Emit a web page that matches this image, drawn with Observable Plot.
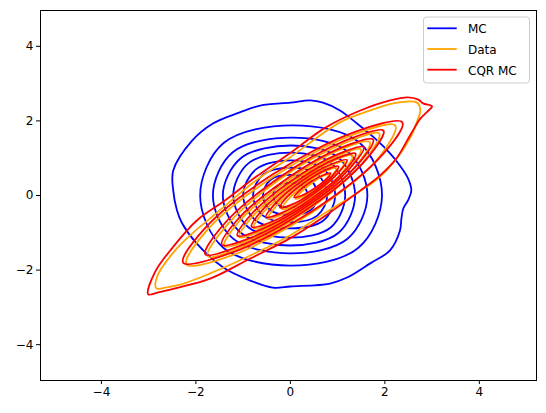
<!DOCTYPE html>
<html><head><meta charset="utf-8">
<script src="https://cdn.jsdelivr.net/npm/d3@7"></script>
<script src="https://cdn.jsdelivr.net/npm/@observablehq/plot@0.6"></script>
<style>
body{margin:0;background:#fff;}
#chart{position:relative;width:546px;height:413px;}
</style>
</head><body><div id="chart"></div>
<script>
const series = ["MC", "Data", "CQR MC"];
const seriesColors = ["#0000ff", "#ffa500", "#ff0000"];
const xTicks = [-4, -2, 0, 2, 4];
const yTicks = [-4, -2, 0, 2, 4];

// MC contours (outermost first)
const mcContours = [
  [[0.42,2.55],[0.69,2.49],[1.05,2.28],[1.41,1.93],[1.79,1.53],[2.11,1.13],[2.32,0.80],[2.49,0.46],[2.56,0.13],[2.49,-0.13],[2.39,-0.35],[2.35,-0.62],[2.32,-0.94],[2.11,-1.47],[1.69,-1.82],[1.20,-2.20],[0.84,-2.36],[0.0,-2.44],[-0.37,-2.47],[-0.85,-2.28],[-1.42,-1.93],[-1.98,-1.29],[-2.29,-0.75],[-2.40,-0.40],[-2.48,0.13],[-2.48,0.67],[-2.08,1.47],[-1.64,1.93],[-1.07,2.23],[-0.64,2.41],[0.0,2.49]],
  [[1.94,0.0],[1.46,1.42],[0.05,1.88],[-1.42,1.40],[-1.91,0.0],[-1.42,-1.40],[0.0,-1.88],[1.44,-1.40]],
  [[1.63,0.0],[1.22,1.17],[0.04,1.55],[-1.22,1.16],[-1.64,0.0],[-1.22,-1.15],[0.0,-1.55],[1.21,-1.16]],
  [[1.37,0.0],[1.03,1.00],[0.03,1.34],[-1.05,1.00],[-1.43,0.0],[-1.05,-1.00],[0.0,-1.34],[1.02,-1.00]],
  [[1.16,0.0],[0.87,0.86],[0.03,1.15],[-0.89,0.86],[-1.21,0.0],[-0.89,-0.85],[0.0,-1.13],[0.86,-0.85]],
  [[0.95,0.0],[0.71,0.70],[0.03,0.94],[-0.73,0.70],[-1.00,0.0],[-0.73,-0.67],[0.0,-0.88],[0.70,-0.67]],
  [[0.78,0.0],[0.58,0.56],[0.03,0.75],[-0.58,0.56],[-0.79,0.0],[-0.58,-0.54],[0.0,-0.72],[0.57,-0.54]],
  [[0.58,0.0],[0.43,0.41],[0.03,0.55],[-0.43,0.41],[-0.58,0.0],[-0.43,-0.39],[0.0,-0.52],[0.43,-0.39]],
  [[0.36,0.0],[0.27,0.25],[0.03,0.34],[-0.27,0.25],[-0.36,0.0],[-0.27,-0.24],[0.0,-0.32],[0.27,-0.24]]
];

// Data contours
const dataContours = [
  [[-2.84,-2.49],[-2.82,-2.17],[-2.44,-1.47],[-2.08,-1.02],[-1.60,-0.51],[-0.75,0.38],[-0.01,1.02],[1.05,1.96],[1.69,2.28],[2.18,2.47],[2.68,2.49],[2.75,2.28],[2.68,1.98],[2.54,1.55],[2.22,0.94],[1.86,0.46],[1.43,0.08],[0.68,-0.51],[-0.01,-1.07],[-0.85,-1.61],[-1.70,-2.09],[-2.33,-2.39],[-2.65,-2.47]],
  [[-2.20,-1.85],[-1.80,-0.98],[-0.36,0.50],[1.33,1.63],[2.22,1.88],[1.86,1.00],[0.45,-0.46],[-1.27,-1.62]],
  [[-1.75,-1.63],[-1.40,-0.88],[-0.24,0.42],[1.14,1.40],[1.88,1.66],[1.56,0.92],[0.41,-0.35],[-1.00,-1.37]],
  [[-1.40,-1.36],[-1.11,-0.73],[-0.10,0.36],[1.04,1.22],[1.68,1.43],[1.40,0.81],[0.42,-0.27],[-0.76,-1.14]],
  [[-1.08,-1.12],[-0.82,-0.59],[0.01,0.33],[0.97,1.05],[1.49,1.24],[1.24,0.72],[0.44,-0.19],[-0.55,-0.92]],
  [[-0.78,-0.88],[-0.57,-0.45],[0.12,0.31],[0.89,0.92],[1.32,1.07],[1.12,0.65],[0.46,-0.11],[-0.34,-0.72]],
  [[-0.48,-0.62],[-0.31,-0.30],[0.22,0.31],[0.81,0.78],[1.15,0.90],[0.99,0.59],[0.48,-0.01],[-0.14,-0.49]],
  [[-0.18,-0.36],[-0.06,-0.12],[0.32,0.31],[0.73,0.65],[0.97,0.73],[0.86,0.50],[0.50,0.07],[0.07,-0.28]],
  [[0.11,-0.09],[0.19,0.05],[0.43,0.31],[0.67,0.51],[0.81,0.56],[0.74,0.42],[0.53,0.17],[0.27,-0.03]]
];

// CQR MC contours
const cqrContours = [
  [[-3.01,-2.65],[-2.87,-2.06],[-2.49,-1.39],[-1.98,-0.67],[-1.38,-0.13],[-0.75,0.48],[-0.01,1.13],[0.74,1.82],[1.48,2.28],[2.11,2.55],[2.49,2.63],[2.71,2.57],[2.81,2.47],[3.00,2.39],[2.90,2.25],[2.75,2.06],[2.62,1.80],[2.47,1.47],[2.26,1.02],[1.90,0.54],[1.48,0.13],[0.74,-0.54],[-0.01,-1.15],[-0.85,-1.69],[-1.70,-2.23],[-2.44,-2.49],[-2.80,-2.60]],
  [[-2.27,-1.80],[-1.84,-0.92],[-0.37,0.57],[1.40,1.72],[2.37,1.96],[1.94,1.08],[0.47,-0.41],[-1.30,-1.56]],
  [[-1.80,-1.58],[-1.45,-0.83],[-0.25,0.47],[1.20,1.49],[1.97,1.74],[1.62,0.99],[0.42,-0.31],[-1.03,-1.33]],
  [[-1.45,-1.32],[-1.15,-0.69],[-0.12,0.41],[1.09,1.29],[1.75,1.50],[1.45,0.87],[0.42,-0.23],[-0.79,-1.11]],
  [[-1.12,-1.08],[-0.86,-0.55],[-0.01,0.37],[1.01,1.11],[1.55,1.30],[1.29,0.77],[0.44,-0.15],[-0.58,-0.89]],
  [[-0.82,-0.84],[-0.61,-0.41],[0.10,0.35],[0.93,0.97],[1.38,1.12],[1.17,0.69],[0.46,-0.07],[-0.37,-0.69]],
  [[-0.52,-0.58],[-0.35,-0.26],[0.20,0.35],[0.85,0.83],[1.20,0.95],[1.03,0.63],[0.48,0.03],[-0.17,-0.46]],
  [[-0.22,-0.32],[-0.10,-0.08],[0.30,0.35],[0.77,0.70],[1.02,0.78],[0.90,0.54],[0.50,0.11],[0.04,-0.24]],
  [[0.08,-0.05],[0.16,0.09],[0.41,0.35],[0.70,0.55],[0.85,0.60],[0.78,0.46],[0.53,0.21],[0.24,0.00]]
];

const allContours = [mcContours, dataContours, cqrContours];
const rows = [];
allContours.forEach((contours, si) => {
  contours.forEach((pts, li) => {
    pts.forEach(([x, y]) => rows.push({series: series[si], key: series[si] + "-" + li, x, y}));
  });
});

const plot = Plot.plot({
  width: 546,
  height: 413,
  marginLeft: 40,
  marginTop: 10,
  marginRight: 10,
  marginBottom: 33,
  style: {fontFamily: "DejaVu Sans", fontSize: "12px", color: "#000", background: "#fff"},
  x: {domain: [-5.29, 5.21], ticks: xTicks, tickSize: 4, tickPadding: 3, label: null},
  y: {domain: [-4.96, 4.96], ticks: yTicks, tickSize: 4, tickPadding: 3, label: null},
  color: {domain: series, range: seriesColors},
  marks: [
    Plot.line(rows, {x: "x", y: "y", z: "key", stroke: "series", strokeWidth: 1.8, curve: "catmull-rom-closed"}),
    Plot.frame({stroke: "#000", strokeWidth: 1})
  ]
});
document.getElementById("chart").appendChild(plot);

// Legend (lines with labels), drawn in the SVG corner
const svg = d3.select(plot);
const lg = svg.append("g").attr("font-family", "DejaVu Sans").attr("font-size", "12px").attr("text-anchor", "start");
lg.append("rect").attr("x", 423.5).attr("y", 17).attr("width", 106).attr("height", 66)
  .attr("rx", 3).attr("fill", "#fff").attr("fill-opacity", 0.8).attr("stroke", "#cccccc").attr("stroke-width", 1);
series.forEach((s, i) => {
  const yy = 28.3 + i * 20.7;
  lg.append("line").attr("x1", 427.3).attr("x2", 456.7).attr("y1", yy).attr("y2", yy)
    .attr("stroke", seriesColors[i]).attr("stroke-width", 1.8);
  lg.append("text").attr("x", 468).attr("y", yy + 5).attr("text-anchor", "start").attr("fill", "#000").text(s);
});
</script>
</body></html>
